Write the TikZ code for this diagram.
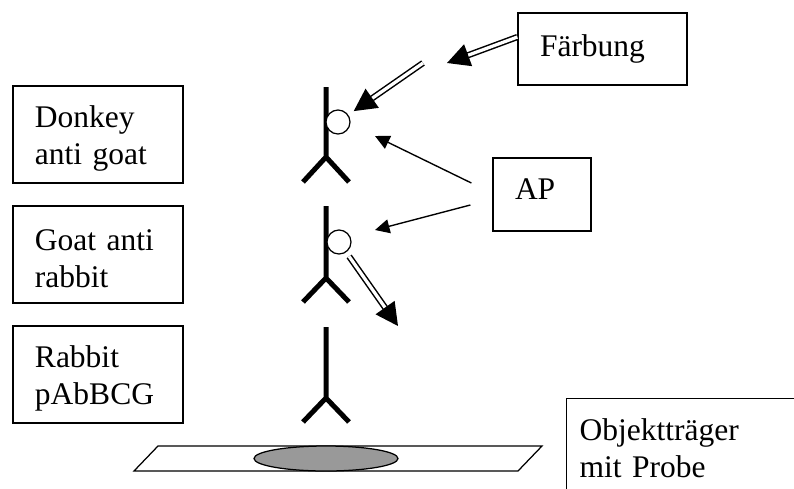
\documentclass[tikz,border=0pt]{standalone}
\usepackage{fontspec}
\setmainfont{Liberation Serif}
\usetikzlibrary{arrows.meta,positioning}
\definecolor{colorspot}{HTML}{999999}
\tikzset{
  boxlab/.style={draw, line width=0.5pt, inner xsep=8.8pt, inner ysep=0pt, align=left,
    font=\fontsize{12.6}{14.8}\selectfont},
  boxtwo/.style={boxlab, text width=50.4pt, minimum height=38.8pt,
    execute at begin node={\rule{0pt}{11.8pt}}},
  edgeap/.style={black, line width=0.55pt, -{Triangle[length=5.8pt,width=5.6pt]}},
  edgedye/.style={black, double, double distance=1.3pt, line width=0.6pt,
    -{Triangle[length=9pt,width=9.2pt]}},
  stick/.style={line width=2pt},
  apdot/.style={circle, draw, line width=0.5pt, fill=white, minimum size=9.6pt, inner sep=0pt}
}

\begin{document}
\begin{tikzpicture}[x=0.4pt, y=-0.4pt]
\useasboundingbox (0,0) rectangle (794,488);
% labels
\node[boxtwo] (dk) at (98,134.5) {Donkey\\anti goat};
\node[boxtwo] (gt) at (98,254.5) {Goat anti\\rabbit};
\node[boxtwo] (rb) at (98,374.5) {Rabbit\\pAbBCG};
\node[boxlab, text width=50pt, minimum height=28.8pt] (fb) at (602.5,49) {Färbung};
\node[boxlab, text width=21.6pt, minimum height=29.2pt] (ap) at (542,194.5) {AP\rule[-4pt]{0pt}{0pt}};
\node[boxlab, anchor=north west, inner xsep=5.2pt, inner ysep=8pt, text width=100pt] (ob) at (566,398) {Objektträger\\mit Probe};
% antibodies
\draw[stick] (326,87) -- (326,157) (303,182) -- (326,157) -- (349,182);
\draw[stick] (326,206) -- (326,278) (303,302) -- (326,278) -- (349,302);
\draw[stick] (326,327) -- (326,398) (303,422) -- (326,398) -- (349,422);
\node[apdot] (d1) at (338,122) {};
\node[apdot] (d2) at (339,242) {};
% slide
\draw[line width=0.5pt] (158,446) -- (542,446) -- (518,471) -- (134,471) -- cycle;
\draw[line width=0.5pt, fill=colorspot] (326,458.5) ellipse [x radius=28.8pt, y radius=5pt];
% arrows
\coordinate (e1) at (375,136);
\coordinate (e2) at (375,230);
\coordinate (f1) at (447,63);
\coordinate (f2) at (423,63);
\coordinate (f3) at (398,326);
\draw[edgeap] ([shift={(-21,-11.5)}]ap.west) -- (e1);
\draw[edgeap] ([shift={(-22,10.5)}]ap.west) -- (e2);
\draw[edgedye] ([yshift=4.8pt]fb.west) -- (f1);
\draw[edgedye, shorten >=2.6pt] (f2) -- (d1);
\draw[edgedye, shorten <=2pt] (d2) -- (f3);
\end{tikzpicture}
\end{document}
